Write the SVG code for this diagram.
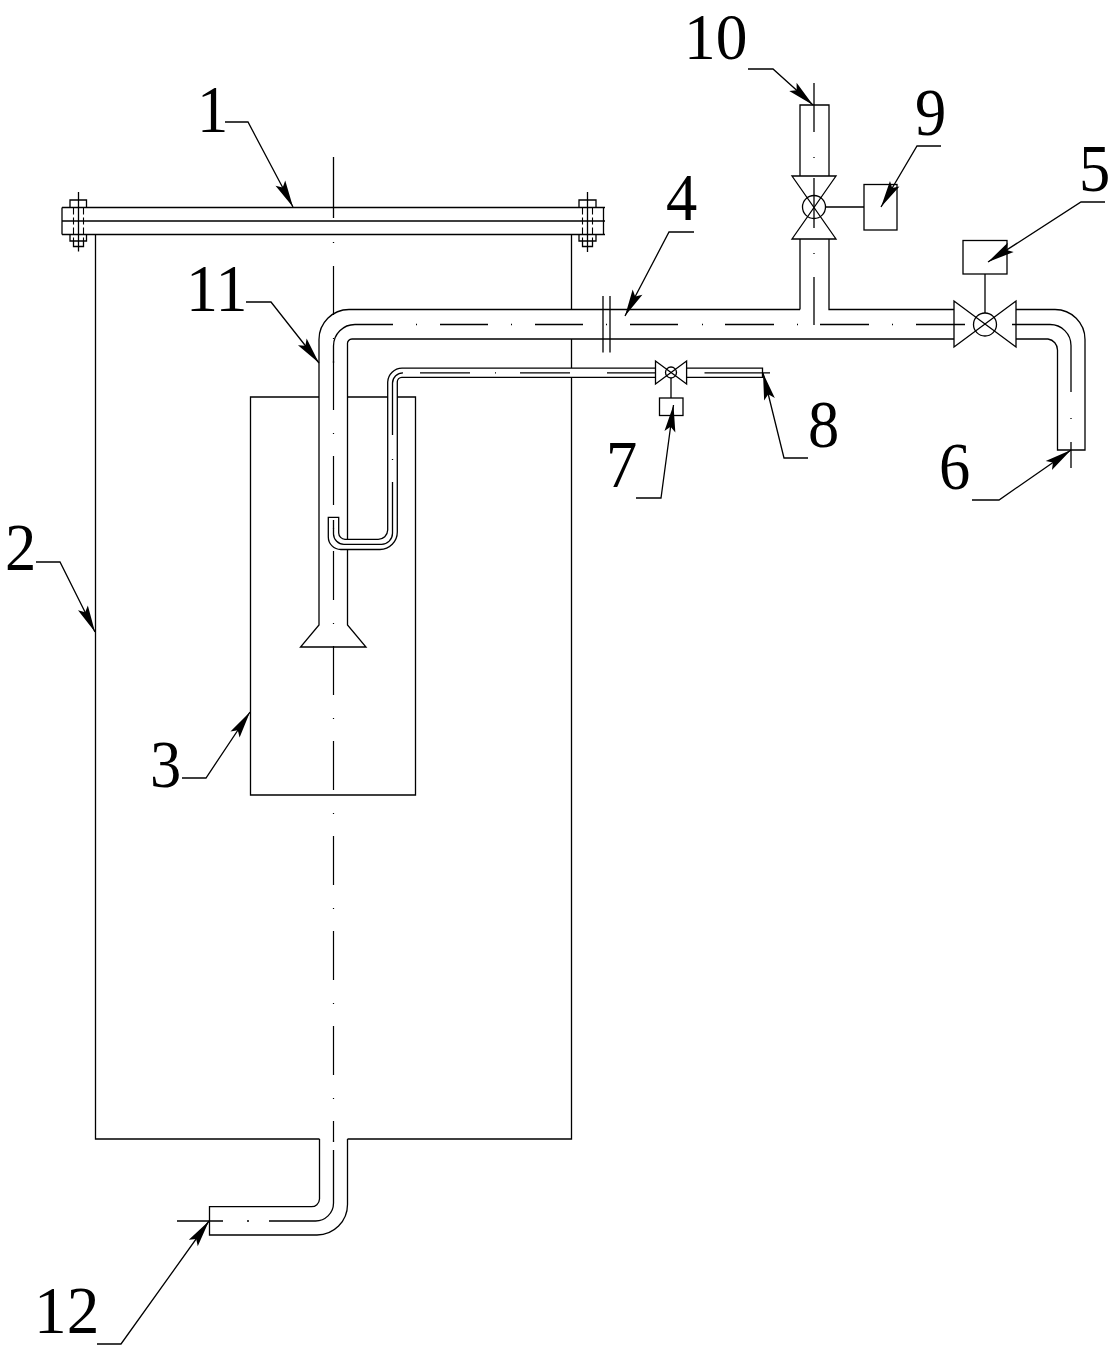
<svg xmlns="http://www.w3.org/2000/svg" width="1110" height="1351" viewBox="0 0 1110 1351">
<style>
.l{fill:none;stroke:#000;stroke-width:1.3}
.c{fill:none;stroke:#000;stroke-width:1.2;stroke-dasharray:49 23 1 22}
.d{fill:none;stroke:#000;stroke-width:1.1;stroke-dasharray:7 3}
.a{fill:none;stroke:#000;stroke-width:1.3;marker-end:url(#arr)}
.t{font-family:"Liberation Serif",serif;font-size:68px;fill:#000}
</style>
<defs>
<marker id="arr" markerUnits="userSpaceOnUse" markerWidth="32" markerHeight="14" refX="30" refY="7" orient="auto">
<path d="M30 7L3 1.500L8 7L3 12.500Z" fill="#000"/>
</marker>
</defs>
<rect width="1110" height="1351" fill="#fff"/>
<g id="tank-2">
<path class="l" d="M95.5 234.5V1139H319.5M347.5 1139H571.5V378M571.5 368V339M571.5 309.5V234.5"/>
</g>
<g id="cover-1">
<path class="l" d="M62 207.5H605M62 221H605M62 234.5H605M62 207.5V234.5M603.5 207.5V234.5"/>
<path class="l" d="M70 207.5V200H86.5V207.5M70 234.5V241H86.5V234.5M73.500 241V246.500H83.500V241M78.500 192V251.500"/>
<path class="d" d="M73.500 207.500V241M83.500 207.500V241"/>
<path class="l" d="M579 207.500V200H596V207.500M579 234.500V241H596V234.500M582.500 241V246.500H592.500V241M587.500 192V252"/>
<path class="d" d="M582.500 207.500V241M592.500 207.500V241"/>
</g>
<g id="inner-box-3">
<path class="l" d="M319 397H250.500V795H415.500V397H397M388 397H347"/>
</g>
<g id="pipe-11">
<path class="l" d="M800 309.500H349A30 30 0 0 0 319 339.500V625L300.500 647H366L347.500 625V549.500M347.500 539V344A4.500 4.500 0 0 1 352 339H954"/>
<path class="l" d="M603 296V352.500M610 296V352.500"/>
<path class="l" d="M869 324.500H820M774 324.500H725M678 324.500H630M583 324.500H535M488 324.500H440M393 324.500H355A21.500 21.500 0 0 0 333.500 346V363M965 324.500H916"/>
<path class="l" d="M702 324.500H703M797 324.500H798M892 324.500H893M606 324.500H607M511 324.500H512M416 324.500H417"/>
</g>
<g id="centerline">
<path class="l" d="M333.500 157V218M333.500 242V243"/>
<path class="c" d="M333.500 266V1140"/>
</g>
<g id="branch-10">
<path class="l" d="M800 176V105H829V176M800 239V309.500M829 239V309.500H954"/>
<path class="l" d="M792 176H836L792 239H836Z"/>
<circle class="l" cx="814" cy="207" r="11.500"/>
<path class="l" d="M814 83V132M814 157V158M814 178V228M814 253V254M814 277V325M825.500 207H864"/>
</g>
<g id="actuator-9">
<rect class="l" x="864" y="184.500" width="33" height="45.500"/>
</g>
<g id="valve-5">
<path class="l" d="M954 301V347L1016 301V347Z"/>
<circle class="l" cx="985" cy="324.500" r="11.500"/>
<path class="l" d="M985 274V313"/>
</g>
<g id="actuator-5">
<rect class="l" x="963" y="240.500" width="44" height="33.500"/>
</g>
<g id="pipe-6">
<path class="l" d="M1016 309.500H1055A30 30 0 0 1 1085 339.500V450H1057.500V350A11 11 0 0 0 1048 339H1016"/>
<path class="l" d="M1012 324.500H1050A21 21 0 0 1 1071 345.500V392M1071 418V419M1071 442V468"/>
</g>
<g id="pipe-8">
<path class="l" d="M655.500 368.200H402A14.500 14.500 0 0 0 387.700 382V530A9.500 9.500 0 0 1 378 539.300H345A6.500 6.500 0 0 1 338.700 533V517.300H328.300V537A12.500 12.500 0 0 0 341 549.500H380A17.500 17.500 0 0 0 397.300 532V382A4.500 4.500 0 0 1 402 377.300H655.500"/>
<path class="l" d="M686.600 368.200H762.500V377.300H686.600"/>
<path class="l" d="M655 372.800H607M570 372.800H520M496 372.800H495M470 372.800H420M403 372.800A10.500 10.500 0 0 0 392.500 383V435M392.500 459V460M392.500 482V533A11 11 0 0 1 381 544.300H344A10.500 10.500 0 0 1 333.500 534V520"/>
<path class="l" d="M704.500 372.800H770"/>
</g>
<g id="valve-7">
<path class="l" d="M655.500 361V384L686.600 361V384Z"/>
<circle class="l" cx="671" cy="372.500" r="5.500" stroke-width="2"/>
<path class="l" d="M671 378V398"/>
</g>
<g id="actuator-7">
<rect class="l" x="659.500" y="398" width="23.500" height="17.500"/>
</g>
<g id="pipe-12">
<path class="l" d="M319.500 1139V1199A8 8 0 0 1 311 1206.700H209.500V1235H317A30.500 30.500 0 0 0 347.500 1204.500V1139"/>
<path class="l" d="M333.500 1140V1142M333.500 1150V1203A18 18 0 0 1 315 1221H269M247 1221H249M223 1221H177"/>
</g>
<g id="connectors">
<path class="a" d="M225 122H248L293 207"/>
<path class="a" d="M36 562H60L95 632"/>
<path class="a" d="M182 778H206L250 712"/>
<path class="a" d="M694 232H669L625 316"/>
<path class="a" d="M1105 202H1081L988 262"/>
<path class="a" d="M972 500H999L1071 450"/>
<path class="a" d="M636 498H661L673.500 405"/>
<path class="a" d="M808 458H784L763 373"/>
<path class="a" d="M941 146H917L881 207"/>
<path class="a" d="M748 69H773L813 105"/>
<path class="a" d="M246 302H271L319 363"/>
<path class="a" d="M97 1344H121L209 1221"/>
</g>
<g id="labels">
<text class="t" transform="translate(197 132) scale(.92 1)">1</text>
<text class="t" transform="translate(5 570) scale(.92 1)">2</text>
<text class="t" transform="translate(150 787) scale(.92 1)">3</text>
<text class="t" transform="translate(666 220) scale(.92 1)">4</text>
<text class="t" transform="translate(1079 191) scale(.92 1)">5</text>
<text class="t" transform="translate(939 489) scale(.92 1)">6</text>
<text class="t" transform="translate(606 487) scale(.92 1)">7</text>
<text class="t" transform="translate(808 447) scale(.92 1)">8</text>
<text class="t" transform="translate(915 135) scale(.92 1)">9</text>
<text class="t" transform="translate(684 59) scale(.96 1)" style="font-size:66px">10</text>
<text class="t" transform="translate(186 311) scale(.94 1)">11</text>
<text class="t" transform="translate(34 1333) scale(.96 1)">12</text>
</g>
</svg>
